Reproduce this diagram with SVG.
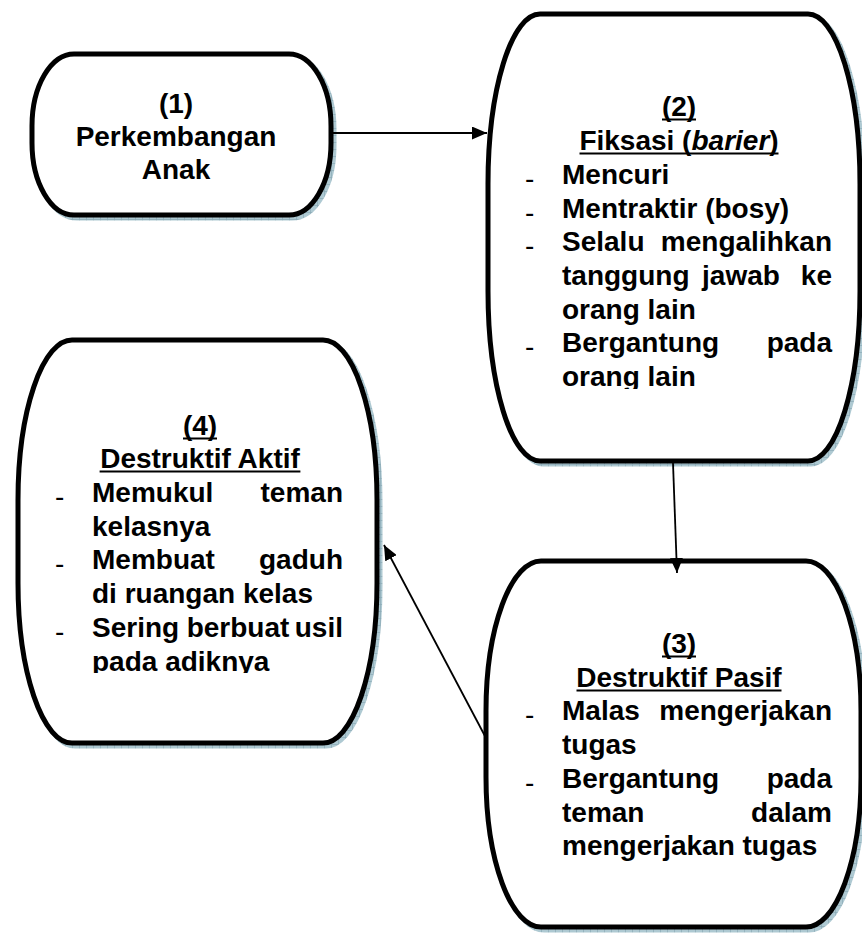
<svg xmlns="http://www.w3.org/2000/svg" width="862" height="934" viewBox="0 0 862 934">
<style>
.box{fill:#ffffff;stroke:#000000;stroke-width:5}
.shadow{fill:url(#hatch);stroke:url(#hatch);stroke-width:5}
.t{font-family:"Liberation Sans",Arial,sans-serif;font-weight:bold;font-size:28px;fill:#000000}
.c{text-anchor:middle}
.e{text-anchor:end}
.ul{stroke:#000000;stroke-width:2}
.d{font-family:"Liberation Sans",Arial,sans-serif;font-weight:normal;font-size:28px;fill:#000000}
.conn{stroke:#000000;stroke-width:1.8;fill:none;marker-end:url(#arr)}
</style>
<defs>
<pattern id="hatch" width="7" height="7" patternUnits="userSpaceOnUse">
<rect width="7" height="7" fill="#aec9d2"/>
<path d="M6.5,0 V7 M0,6.5 H7" stroke="#8aa9b6" stroke-width="0.7"/>
</pattern>
<marker id="arr" markerUnits="userSpaceOnUse" markerWidth="15" markerHeight="13" refX="15" refY="6.5" orient="auto">
<path d="M0,0 L15,6.5 L0,13 Z" fill="#000000"/>
</marker>
<clipPath id="clip2"><rect x="480" y="360" width="382" height="29"/></clipPath>
<clipPath id="clip4"><rect x="10" y="645" width="380" height="28"/></clipPath>
</defs>

<g id="node1">
<path class="shadow" transform="translate(3,3)" d="M74,54 H289 A42,72 0 0 1 331,126 V143 A42,72 0 0 1 289,215 H74 A42,72 0 0 1 32,143 V126 A42,72 0 0 1 74,54 Z"/>
<path class="box" d="M74,54 H289 A42,72 0 0 1 331,126 V143 A42,72 0 0 1 289,215 H74 A42,72 0 0 1 32,143 V126 A42,72 0 0 1 74,54 Z"/>
<text class="t c" x="176" y="113">(1)</text>
<text class="t c" x="176" y="146">Perkembangan</text>
<text class="t c" x="176" y="179">Anak</text>
</g>

<g id="node2">
<path class="shadow" transform="translate(3,3)" d="M540,14 H808 A52,170 0 0 1 860,184 V291 A52,170 0 0 1 808,461 H540 A52,170 0 0 1 488,291 V184 A52,170 0 0 1 540,14 Z"/>
<path class="box" d="M540,14 H808 A52,170 0 0 1 860,184 V291 A52,170 0 0 1 808,461 H540 A52,170 0 0 1 488,291 V184 A52,170 0 0 1 540,14 Z"/>
<text class="t c" x="679" y="116">(2)</text>
<line class="ul" x1="662" y1="119.5" x2="696" y2="119.5"/>
<text class="t c" x="679" y="150">Fiksasi (<tspan font-style="italic">barier</tspan>)</text>
<line class="ul" x1="579.5" y1="153.5" x2="778.5" y2="153.5"/>
<text class="d" x="525" y="188">-</text>
<text class="t" x="562" y="184">Mencuri</text>
<text class="d" x="525" y="221.5">-</text>
<text class="t" x="562" y="217.5">Mentraktir (bosy)</text>
<text class="d" x="525" y="255">-</text>
<text class="t" x="562" y="251">Selalu</text>
<text class="t e" x="832" y="251">mengalihkan</text>
<text class="t" x="562" y="285">tanggung</text>
<text class="t c" x="741" y="285">jawab</text>
<text class="t e" x="832" y="285">ke</text>
<text class="t" x="562" y="318.5">orang lain</text>
<text class="d" x="525" y="356">-</text>
<text class="t" x="562" y="352">Bergantung</text>
<text class="t e" x="832" y="352">pada</text>
<text class="t" x="562" y="386" clip-path="url(#clip2)">orang lain</text>
</g>

<g id="node3">
<path class="shadow" transform="translate(3,3)" d="M541,561 H806 A55,150 0 0 1 861,711 V777 A55,150 0 0 1 806,927 H541 A55,150 0 0 1 486,777 V711 A55,150 0 0 1 541,561 Z"/>
<path class="box" d="M541,561 H806 A55,150 0 0 1 861,711 V777 A55,150 0 0 1 806,927 H541 A55,150 0 0 1 486,777 V711 A55,150 0 0 1 541,561 Z"/>
<text class="t c" x="679" y="653">(3)</text>
<line class="ul" x1="662" y1="656.5" x2="696" y2="656.5"/>
<text class="t c" x="679" y="687">Destruktif Pasif</text>
<line class="ul" x1="576.5" y1="690.5" x2="781.5" y2="690.5"/>
<text class="d" x="525" y="724">-</text>
<text class="t" x="562" y="720">Malas</text>
<text class="t e" x="832" y="720">mengerjakan</text>
<text class="t" x="562" y="754">tugas</text>
<text class="d" x="525" y="792">-</text>
<text class="t" x="562" y="788">Bergantung</text>
<text class="t e" x="832" y="788">pada</text>
<text class="t" x="562" y="821.5">teman</text>
<text class="t e" x="832" y="821.5">dalam</text>
<text class="t" x="562" y="855">mengerjakan tugas</text>
</g>

<g id="node4">
<path class="shadow" transform="translate(3,3)" d="M72,340 H323 A54,160 0 0 1 377,500 V583 A54,160 0 0 1 323,743 H72 A54,160 0 0 1 18,583 V500 A54,160 0 0 1 72,340 Z"/>
<path class="box" d="M72,340 H323 A54,160 0 0 1 377,500 V583 A54,160 0 0 1 323,743 H72 A54,160 0 0 1 18,583 V500 A54,160 0 0 1 72,340 Z"/>
<text class="t c" x="200" y="435">(4)</text>
<line class="ul" x1="183" y1="438.5" x2="217" y2="438.5"/>
<text class="t c" x="200" y="468">Destruktif Aktif</text>
<line class="ul" x1="99.6" y1="471.5" x2="300.4" y2="471.5"/>
<text class="d" x="55" y="506">-</text>
<text class="t" x="92" y="502">Memukul</text>
<text class="t e" x="343" y="502">teman</text>
<text class="t" x="92" y="535.5">kelasnya</text>
<text class="d" x="55" y="573">-</text>
<text class="t" x="92" y="569">Membuat</text>
<text class="t e" x="343" y="569">gaduh</text>
<text class="t" x="92" y="603">di ruangan kelas</text>
<text class="d" x="55" y="641">-</text>
<text class="t" x="92" y="637">Sering</text>
<text class="t c" x="238" y="637">berbuat</text>
<text class="t e" x="343" y="637">usil</text>
<text class="t" x="92" y="670.5" clip-path="url(#clip4)">pada adiknya</text>
</g>

<g id="connectors">
<line class="conn" x1="333" y1="133" x2="487" y2="133"/>
<line class="conn" x1="673" y1="463" x2="677" y2="573"/>
<line class="conn" x1="486" y1="738" x2="384" y2="545"/>
</g>
</svg>
